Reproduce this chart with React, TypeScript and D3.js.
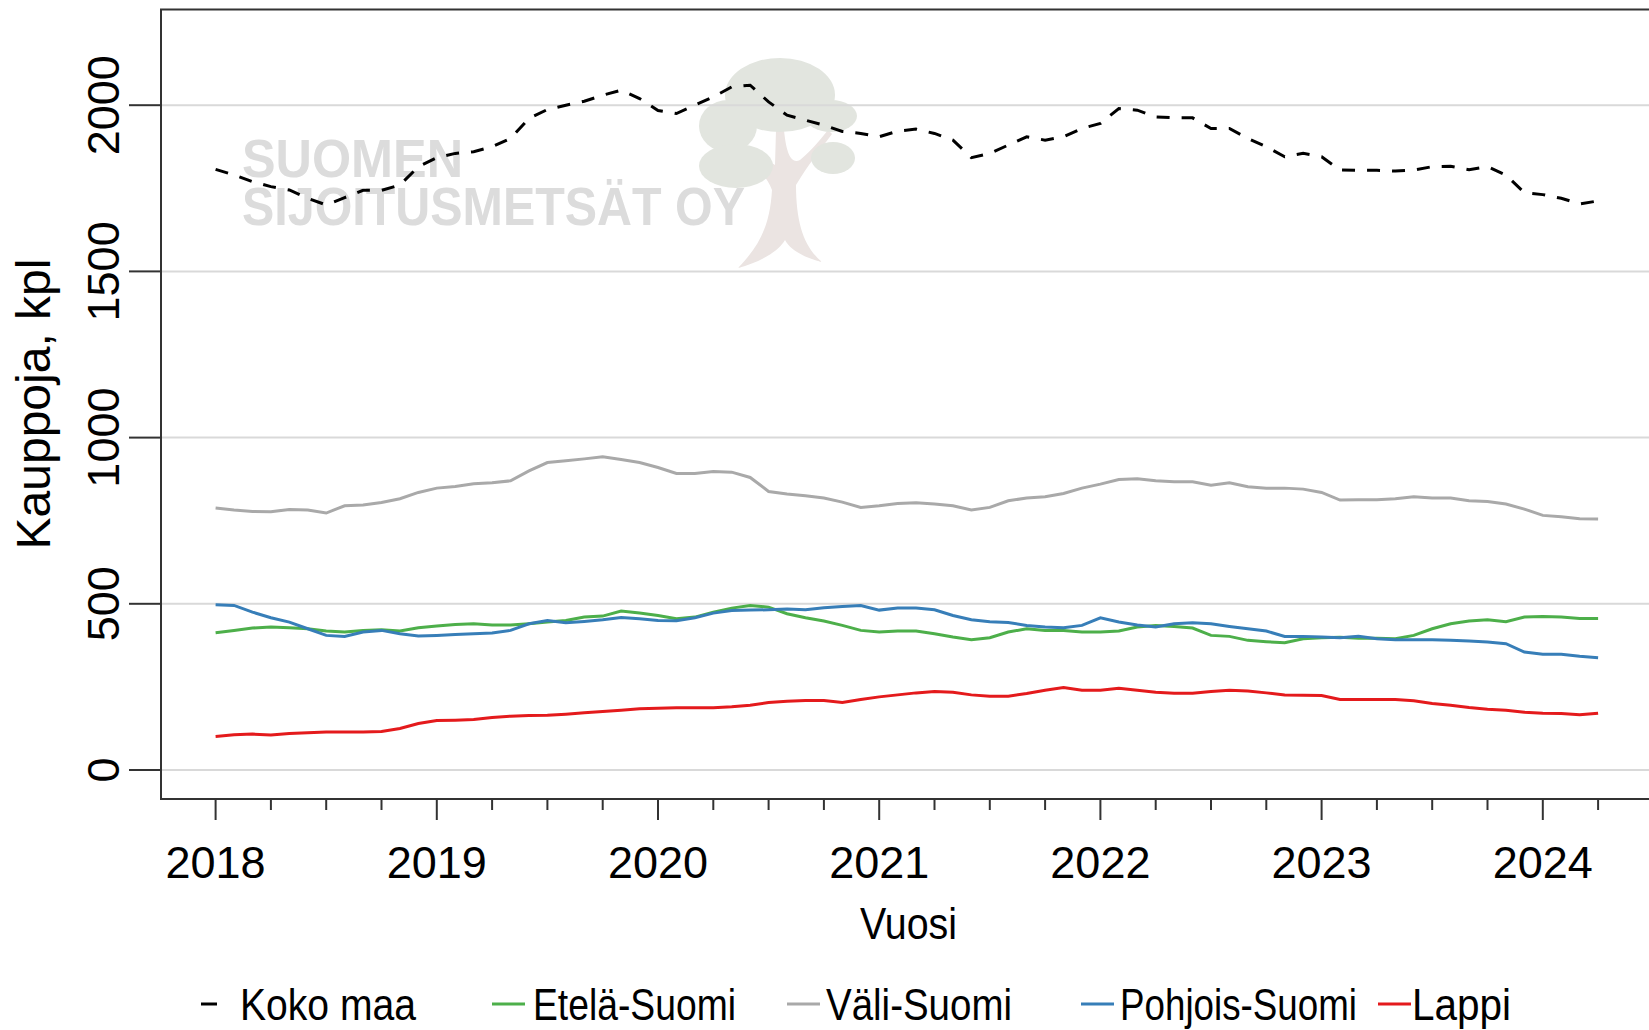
import React, { useEffect, useRef } from 'react';
import * as d3 from 'd3';

// monthly values, Jan 2018 .. Apr 2024
const startYear = 2018;
const kokoMaa = [
  1807, 1790, 1770, 1755, 1745, 1720, 1700, 1722, 1744, 1744, 1760, 1815,
  1842, 1855, 1860, 1875, 1900, 1960, 1987, 2000, 2012, 2030, 2045, 2020,
  1984, 1975, 2000, 2025, 2055, 2060, 2010, 1970, 1955, 1940, 1921, 1915,
  1905, 1922, 1928, 1915, 1895, 1842, 1855, 1880, 1905, 1895, 1905, 1930,
  1945, 1990, 1985, 1965, 1962, 1962, 1930, 1930, 1900, 1875, 1845, 1855,
  1845, 1805, 1804, 1804, 1802, 1805, 1815, 1816, 1806, 1815, 1790, 1737,
  1731, 1720, 1703, 1712,
];
const etelaSuomi = [
  413, 420, 427, 430, 428, 425, 418, 415, 420, 422, 418, 428,
  433, 438, 440, 436, 436, 440, 445, 450, 460, 463, 478, 472,
  465, 455, 460, 475, 487, 495, 490, 470, 458, 448, 435, 420,
  415, 418, 418, 410, 400, 392, 398, 415, 425, 420, 420, 415,
  415, 418, 430, 435, 432, 427, 405, 402, 390, 386, 383, 395,
  398, 399, 396, 396, 395, 405, 425, 440, 448, 452, 446, 460,
  462, 460, 456, 456,
];
const valiSuomi = [
  788, 782, 778, 777, 784, 782, 773, 795, 797, 805, 816, 835,
  848, 853, 861, 864, 870, 900, 925, 930, 936, 942, 934, 925,
  910, 892, 892, 898, 896, 880, 838, 830, 825, 818, 806, 790,
  795, 802, 804, 800, 795, 782, 790, 810, 818, 822, 832, 848,
  860, 874, 876, 870, 867, 867, 857, 864, 852, 848, 848, 845,
  835, 812, 813, 813, 816, 822, 818, 818, 810, 808, 800, 785,
  766, 762, 756, 755,
];
const pohjoisSuomi = [
  497, 495, 475, 458, 445, 425, 405, 402, 415, 420, 410, 403,
  405, 408, 410, 412, 420, 440, 450, 443, 447, 452, 459, 455,
  450, 449, 458, 472, 480, 481, 482, 484, 482, 488, 492, 495,
  481, 487, 487, 482, 465, 452, 446, 444, 435, 430, 428, 435,
  458, 445, 436, 430, 440, 443, 440, 432, 425, 418, 402, 402,
  400, 398, 402, 395, 392, 392, 392, 390, 388, 385, 380, 355,
  348, 348, 342, 338,
];
const lappi = [
  101, 106, 108, 105, 110, 112, 114, 114, 114, 116, 125, 140,
  149, 150, 152, 158, 162, 164, 165, 168, 172, 176, 180, 184,
  186, 187, 187, 187, 190, 195, 203, 207, 209, 209, 203, 212,
  220, 226, 232, 236, 234, 226, 222, 222, 230, 240, 248, 240,
  240, 246, 240, 234, 231, 231, 236, 240, 238, 232, 226, 225,
  224, 212, 212, 212, 212, 208, 200, 195, 188, 183, 180, 174,
  171, 170, 166, 171,
];

const seriesNames = ['Koko maa', 'Etelä-Suomi', 'Väli-Suomi', 'Pohjois-Suomi', 'Lappi'];
const seriesValues = [kokoMaa, etelaSuomi, valiSuomi, pohjoisSuomi, lappi];
const seriesColors = ['#000000', '#4daf4a', '#a9a9a9', '#377eb8', '#e41a1c'];
const yTicks = [0, 500, 1000, 1500, 2000];
const xYears = [2018, 2019, 2020, 2021, 2022, 2023, 2024];

export default function App() {
  const chartRef = useRef(null);

  useEffect(() => {
    const width = 1649;
    const height = 1030;
    const left = 161;
    const top = 9.5;
    const bottom = 799;

    const svg = d3.select(chartRef.current);
    svg.selectAll('*').remove();
    svg.attr('width', width).attr('height', height);

    const x = d3.scaleLinear().domain([2018, 2024]).range([215.6, 1542.8]);
    const y = d3.scaleLinear().domain([0, 2000]).range([770, 105.2]);

    const font = '"Liberation Sans", Arial, sans-serif';

    // watermark (logo)
    const wm = svg.append('g');
    const canopy = '#e2e5df';
    wm.append('path')
      .attr('d', 'M738,268 C760,245 770,225 772,190 C765,170 745,160 730,150 L740,148 C758,156 768,160 775,165 L776,130 L784,130 C786,150 790,165 800,160 C812,150 820,140 828,130 L832,134 C820,150 808,165 796,185 C796,225 805,248 822,262 C805,258 790,250 785,240 C778,252 760,262 738,268 Z')
      .attr('fill', '#ebe4e2');
    [[780, 95, 55, 37], [728, 126, 29, 26], [736, 166, 37, 22], [831, 116, 26, 16], [833, 158, 22, 16]].forEach(([cx, cy, rx, ry]) => {
      wm.append('ellipse').attr('cx', cx).attr('cy', cy).attr('rx', rx).attr('ry', ry).attr('fill', canopy);
    });
    [['SUOMEN', 177, 221], ['SIJOITUSMETSÄT OY', 225, 503]].forEach(([t, ty, tl]) => {
      wm.append('text').attr('x', 242).attr('y', ty).text(t)
        .attr('font-family', font).attr('font-weight', 'bold').attr('font-size', 54)
        .attr('textLength', tl).attr('lengthAdjust', 'spacingAndGlyphs')
        .attr('fill', '#dcdcdc');
    });

    // gridlines
    svg.append('g').selectAll('line').data(yTicks).enter().append('line')
      .attr('x1', left).attr('x2', width)
      .attr('y1', d => y(d)).attr('y2', d => y(d))
      .attr('stroke', '#d9d9d9').attr('stroke-width', 2);

    // box
    const axisColor = '#333333';
    svg.append('path')
      .attr('d', `M${width},${top} H${left} V${bottom} H${width}`)
      .attr('fill', 'none').attr('stroke', axisColor).attr('stroke-width', 2);

    // y axis ticks + labels
    const yAxis = svg.append('g');
    yAxis.selectAll('line').data(yTicks).enter().append('line')
      .attr('x1', 129).attr('x2', left)
      .attr('y1', d => y(d)).attr('y2', d => y(d))
      .attr('stroke', axisColor).attr('stroke-width', 2);
    yAxis.selectAll('text').data(yTicks).enter().append('text')
      .attr('transform', d => `translate(119,${y(d)}) rotate(-90)`)
      .attr('text-anchor', 'middle')
      .attr('font-family', font).attr('font-size', 45)
      .text(d => d);

    // x axis ticks (quarterly, long on years)
    const quarters = d3.range(0, 26).map(i => 2018 + i / 4);
    svg.append('g').selectAll('line').data(quarters).enter().append('line')
      .attr('x1', d => x(d)).attr('x2', d => x(d))
      .attr('y1', bottom).attr('y2', (d, i) => bottom + (i % 4 === 0 ? 21 : 11))
      .attr('stroke', axisColor).attr('stroke-width', 2);
    svg.append('g').selectAll('text').data(xYears).enter().append('text')
      .attr('x', d => x(d)).attr('y', 878)
      .attr('text-anchor', 'middle')
      .attr('font-family', font).attr('font-size', 45)
      .text(d => d);

    // axis titles
    svg.append('text').attr('x', 860).attr('y', 939)
      .attr('font-family', font).attr('font-size', 45)
      .attr('textLength', 97).attr('lengthAdjust', 'spacingAndGlyphs')
      .text('Vuosi');
    svg.append('text').attr('transform', 'translate(50,404) rotate(-90)').attr('text-anchor', 'middle')
      .attr('font-family', font).attr('font-size', 48).text('Kauppoja, kpl');

    // lines
    const line = d3.line()
      .x((d, i) => x(startYear + i / 12))
      .y(d => y(d));

    const order = [2, 1, 3, 4, 0];
    order.forEach(k => {
      svg.append('path')
        .datum(seriesValues[k])
        .attr('d', line)
        .attr('fill', 'none')
        .attr('stroke', seriesColors[k])
        .attr('stroke-width', 3)
        .attr('stroke-dasharray', k === 0 ? '13 12' : null);
    });

    // legend
    const legendX = [201, 492, 787, 1081, 1378];
    const legendText = [240, 533, 826, 1120, 1412];
    const legendLen = [176, 203, 186, 237, 99];
    const lg = svg.append('g');
    seriesNames.forEach((name, k) => {
      lg.append('line')
        .attr('x1', legendX[k]).attr('x2', k === 0 ? legendX[k] + 16 : legendX[k] + 33)
        .attr('y1', 1004).attr('y2', 1004)
        .attr('stroke', seriesColors[k]).attr('stroke-width', 3);
      lg.append('text')
        .attr('x', legendText[k]).attr('y', 1020)
        .attr('font-family', font).attr('font-size', 44)
        .attr('textLength', legendLen[k]).attr('lengthAdjust', 'spacingAndGlyphs')
        .text(name);
    });
  }, []);

  return <svg ref={chartRef} style={{ position: 'absolute', left: 0, top: 0 }} />;
}
